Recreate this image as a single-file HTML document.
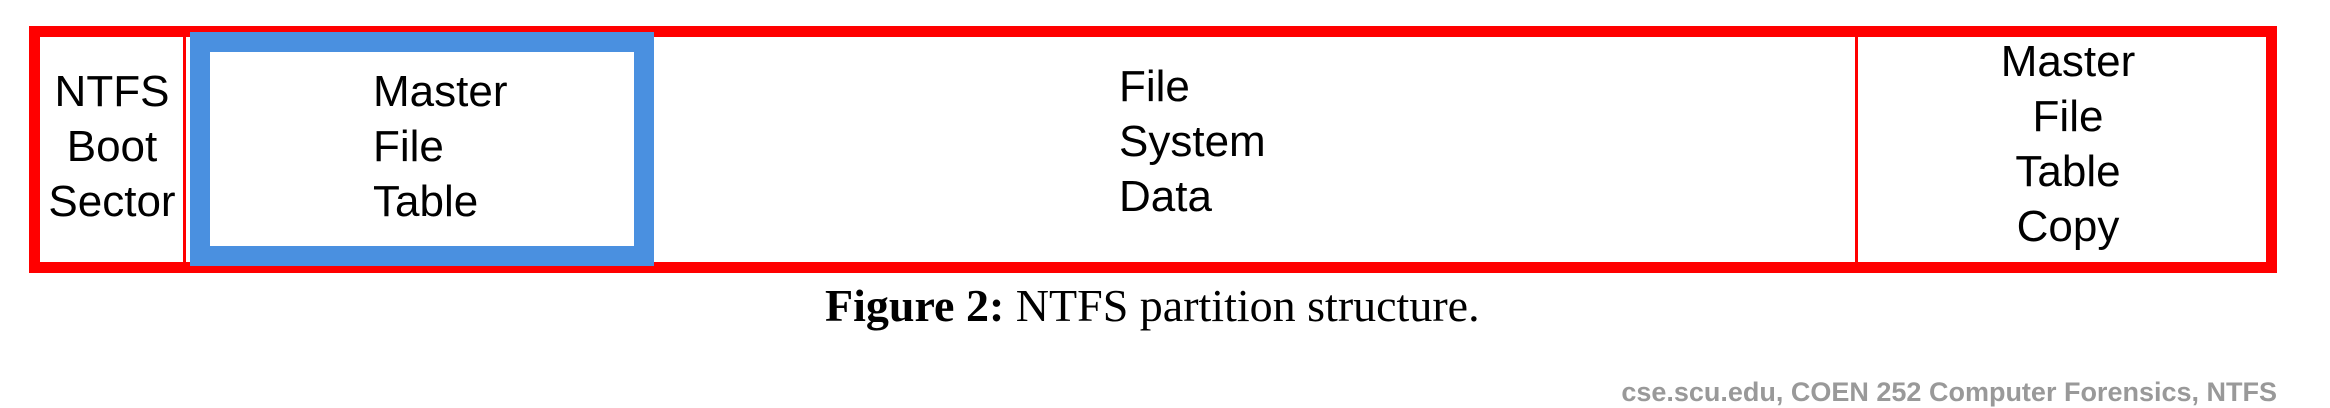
<!DOCTYPE html>
<html><head><meta charset="utf-8"><style>
body{margin:0;width:2330px;height:408px;background:#fff;position:relative;overflow:hidden;font-family:"Liberation Sans",sans-serif;}
div{position:absolute;box-sizing:border-box;}
.t{font-size:44px;line-height:55px;color:#000;text-align:center;white-space:nowrap;}
</style></head><body>
<div style="left:29px;top:26px;width:2248px;height:247px;border:11px solid #ff0000;"></div>
<div style="left:183px;top:35px;width:3px;height:230px;background:#ff0000;"></div>
<div style="left:1855px;top:35px;width:3px;height:230px;background:#ff0000;"></div>
<div style="left:190px;top:32px;width:464px;height:234px;border:20px solid #4a90e0;background:#fff;"></div>
<div class="t" style="left:38px;top:64px;width:148px;">NTFS<br>Boot<br>Sector</div>
<div class="t" style="left:373px;top:64px;text-align:left;">Master<br>File<br>Table</div>
<div class="t" style="left:1119px;top:59px;text-align:left;">File<br>System<br>Data</div>
<div class="t" style="left:1858px;top:34px;width:420px;">Master<br>File<br>Table<br>Copy</div>
<div style="left:825px;top:282px;font-family:'Liberation Serif',serif;font-size:46px;line-height:48px;color:#000;white-space:nowrap;"><b>Figure 2:</b> NTFS partition structure.</div>
<div style="right:53px;top:376px;font-size:27px;font-weight:bold;color:#999;white-space:nowrap;line-height:32px;">cse.scu.edu, COEN 252 Computer Forensics, NTFS</div>
</body></html>
